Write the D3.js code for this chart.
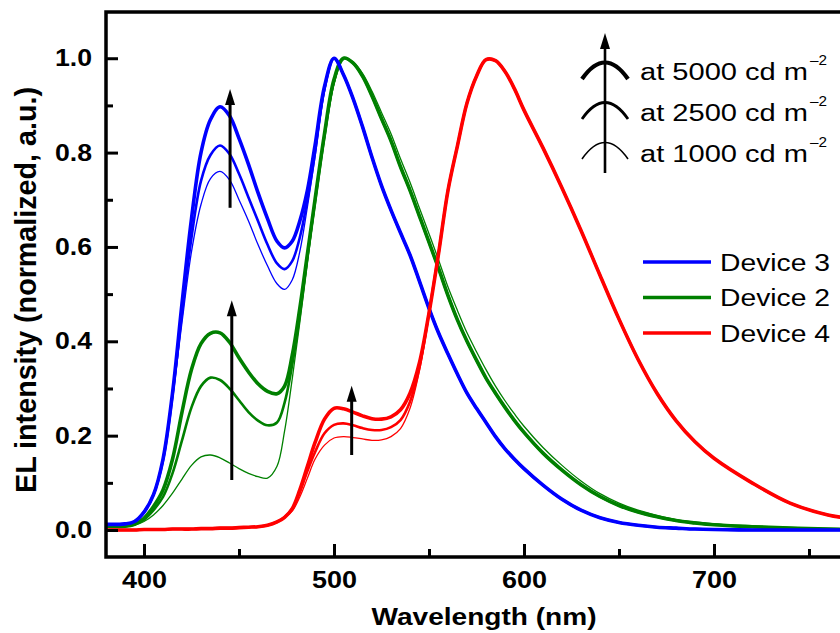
<!DOCTYPE html>
<html>
<head>
<meta charset="utf-8">
<script src="https://cdn.jsdelivr.net/npm/d3@7"></script>
<style>
  html, body { margin: 0; padding: 0; background: #fff; }
  svg { display: block; }
</style>
</head>
<body>
<svg id="chart" width="840" height="633"></svg>
<script>
// ---------------- DATA ----------------
const wavelength = [380,390,395,400,405,410,415,420,425,430,435,440,445,450,455,460,465,470,474,478,482,486,490,495,500,505,510,515,520,525,530,535,540,545,550,555,560,565,570,575,580,585,590,595,600,610,620,630,640,650,660,670,680,690,700,720,740,760,780];

// Device 3 (blue)
const dev3_5000 = [.012,.013,.018,.038,.075,.15,.29,.48,.66,.80, .87,.897,.878,.83,.775, .715,.66,.612,.598,.612, .655,.72,.815,.94,1.0, .965,.915,.855,.79,.73, .678,.63,.583,.527,.47, .418,.373,.33,.29,.258, .228,.198,.172,.15,.13, .095,.065,.042,.026,.016, .01,.006,.004,.002,.001, 0,0,0,0];
const dev3_2500 = [.012,.013,.018,.038,.075,.148,.285,.46,.62,.74, .795,.815,.797,.755,.705, .655,.605,.565,.553,.57, .62,.70,.80,.935,1.0, .965,.915,.855,.79,.73, .678,.63,.583,.527,.47, .418,.373,.33,.29,.258, .228,.198,.172,.15,.13, .095,.065,.042,.026,.016, .01,.006,.004,.002,.001, 0,0,0,0];
const dev3_1000 = [.012,.013,.018,.036,.072,.145,.28,.44,.59,.69, .745,.76,.742,.70,.655, .605,.56,.522,.51,.53, .59,.685,.79,.93,1.0, .965,.915,.855,.79,.73, .678,.63,.583,.527,.47, .418,.373,.33,.29,.258, .228,.198,.172,.15,.13, .095,.065,.042,.026,.016, .01,.006,.004,.002,.001, 0,0,0,0];

// Device 2 (green)
const dev2_5000 = [.008,.008,.012,.025,.05,.085,.15,.25,.34,.395, .417,.418,.398,.365,.335, .31,.294,.289,.305,.37, .47,.585,.70,.84,.955, 1.0,.99,.962,.92,.872, .825,.77,.72,.665,.61, .555,.497,.445,.40,.36, .322,.29,.26,.232,.207, .163,.127,.096,.071,.052, .038,.028,.02,.015,.011, .007,.004,.002,.001];
const dev2_2500 = [.008,.008,.012,.022,.042,.07,.12,.19,.26,.305, .323,.318,.30,.275,.25, .232,.222,.228,.27,.35, .455,.58,.695,.835,.95, 1.0,.99,.962,.92,.872, .825,.77,.72,.665,.61, .555,.497,.445,.40,.36, .322,.29,.26,.232,.207, .163,.127,.096,.071,.052, .038,.028,.02,.015,.011, .007,.004,.002,.001];
const dev2_1000 = [.008,.008,.01,.018,.032,.052,.078,.108,.137,.155, .159,.153,.142,.13,.12, .113,.11,.135,.21,.32, .44,.565,.69,.83,.945, 1.0,.992,.968,.93,.885, .84,.787,.737,.682,.628, .573,.515,.465,.418,.378, .34,.305,.274,.246,.22, .175,.137,.104,.077,.057, .042,.031,.022,.017,.013, .008,.004,.002,.001];

// Device 4 (red)
const dev4_5000 = [0,0,0,.001,.001,.001,.002,.002,.002,.003, .003,.004,.004,.005,.006, .007,.01,.017,.027,.045, .085,.135,.185,.235,.258, .257,.25,.242,.236,.235, .24,.255,.29,.355,.46, .585,.72,.815,.905,.962, .997,.995,.972,.935,.89, .81,.725,.635,.54,.447, .362,.29,.232,.187,.152, .10,.057,.032,.02];
const dev4_2500 = [0,0,0,.001,.001,.001,.002,.002,.002,.003, .003,.004,.004,.005,.006, .007,.01,.017,.027,.045, .08,.125,.165,.205,.223, .226,.222,.216,.212,.212, .218,.233,.272,.345,.46, .585,.72,.815,.905,.962, .997,.995,.972,.935,.89, .81,.725,.635,.54,.447, .362,.29,.232,.187,.152, .10,.057,.032,.02];
const dev4_1000 = [0,0,0,.001,.001,.001,.002,.002,.002,.003, .003,.004,.004,.005,.006, .007,.01,.017,.027,.04, .07,.11,.15,.18,.195, .198,.196,.193,.19,.191, .198,.215,.258,.338,.455, .585,.72,.815,.905,.962, .997,.995,.972,.935,.89, .81,.725,.635,.54,.447, .362,.29,.232,.187,.152, .10,.057,.032,.02];

const xTicks = [400, 500, 600, 700];
const xMinorTicks = [450, 550, 650, 750];
const yTicks = [0, 0.2, 0.4, 0.6, 0.8, 1.0];
const yMinorTicks = [0.1, 0.3, 0.5, 0.7, 0.9];

const legendDevices = ["Device 3", "Device 2", "Device 4"];
const legendLuminance = ["at 5000 cd m", "at 2500 cd m", "at 1000 cd m"];

// arrows inside the plot: [wavelength, yStart, yEnd]
const plotArrows = [[445.3, 0.683, 0.935], [446.2, 0.106, 0.487], [509.3, 0.159, 0.306]];

// ---------------- STYLE ----------------
const colors = { dev3: "#0000ff", dev2: "#008000", dev4: "#ff0000" };
const widths = [3.6, 2.6, 1.3]; // 5000, 2500, 1000

const series = [
  { key: "dev2", curves: [dev2_5000, dev2_2500, dev2_1000] },
  { key: "dev3", curves: [dev3_5000, dev3_2500, dev3_1000] },
  { key: "dev4", curves: [dev4_5000, dev4_2500, dev4_1000] }
];

const svg = d3.select("#chart");
svg.append("rect").attr("width", 840).attr("height", 633).attr("fill", "#fff");

const x = d3.scaleLinear().domain([380, 780]).range([106, 866]);
const y = d3.scaleLinear().domain([-0.0572, 1.098]).range([557, 12]);

svg.append("clipPath").attr("id", "clip")
  .append("rect").attr("x", 106).attr("y", 12).attr("width", 760).attr("height", 545);

const line = d3.line()
  .x((d, i) => x(wavelength[i]))
  .y(d => y(d))
  .curve(d3.curveCatmullRom.alpha(0.5));

const plot = svg.append("g").attr("clip-path", "url(#clip)");
series.forEach(s => {
  s.curves.forEach((c, k) => {
    plot.append("path")
      .datum(c)
      .attr("d", line)
      .attr("fill", "none")
      .attr("stroke", colors[s.key])
      .attr("stroke-width", widths[k])
      .attr("stroke-linejoin", "round");
  });
});

// arrows in plot
plotArrows.forEach(a => {
  const ax = x(a[0]), y0 = y(a[1]), y1 = y(a[2]);
  svg.append("line").attr("x1", ax).attr("x2", ax).attr("y1", y0).attr("y2", y1 + 12)
    .attr("stroke", "#000").attr("stroke-width", 3);
  svg.append("path")
    .attr("d", `M${ax},${y1} L${ax - 5},${y1 + 16} L${ax + 5},${y1 + 16} Z`)
    .attr("fill", "#000");
});

// ---------------- AXES ----------------
const fontBold = "'Liberation Sans', Arial, Helvetica, sans-serif";

const xAxis = svg.append("g").attr("transform", "translate(0,557)")
  .call(d3.axisBottom(x).tickValues(xTicks).tickSize(-13).tickSizeOuter(0).tickPadding(14).tickFormat(d3.format("d")));
xAxis.select(".domain").remove();
xAxis.selectAll(".tick line").attr("stroke", "#000").attr("stroke-width", 3);
xAxis.selectAll(".tick text")
  .attr("font-family", fontBold).attr("font-weight", "bold").attr("font-size", 24.5)
  .attr("fill", "#000").attr("textLength", 45).attr("lengthAdjust", "spacingAndGlyphs");

const xMinor = svg.append("g").attr("transform", "translate(0,557)")
  .call(d3.axisBottom(x).tickValues(xMinorTicks).tickSize(-8).tickSizeOuter(0).tickFormat(""));
xMinor.select(".domain").remove();
xMinor.selectAll(".tick line").attr("stroke", "#000").attr("stroke-width", 3);

const yAxis = svg.append("g").attr("transform", "translate(106,0)")
  .call(d3.axisLeft(y).tickValues(yTicks).tickSize(-12).tickSizeOuter(0).tickPadding(14).tickFormat(d3.format(".1f")));
yAxis.select(".domain").remove();
yAxis.selectAll(".tick line").attr("stroke", "#000").attr("stroke-width", 3);
yAxis.selectAll(".tick text")
  .attr("font-family", fontBold).attr("font-weight", "bold").attr("font-size", 23.5)
  .attr("fill", "#000").attr("textLength", 37).attr("lengthAdjust", "spacingAndGlyphs");

const yMinor = svg.append("g").attr("transform", "translate(106,0)")
  .call(d3.axisLeft(y).tickValues(yMinorTicks).tickSize(-7).tickSizeOuter(0).tickFormat(""));
yMinor.select(".domain").remove();
yMinor.selectAll(".tick line").attr("stroke", "#000").attr("stroke-width", 3);

// frame
svg.append("path")
  .attr("d", `M${x.range()[1]},${y.range()[1]} H${x.range()[0]} V${y.range()[0]} H${x.range()[1]}`)
  .attr("fill", "none").attr("stroke", "#000").attr("stroke-width", 3.5).attr("stroke-linejoin", "miter");

// axis titles
svg.append("text")
  .attr("x", 484).attr("y", 625).attr("text-anchor", "middle")
  .attr("font-family", fontBold).attr("font-weight", "bold").attr("font-size", 24)
  .attr("textLength", 225).attr("lengthAdjust", "spacingAndGlyphs")
  .text("Wavelength (nm)");

svg.append("text")
  .attr("transform", "translate(36,290) scale(1.2,1) rotate(-90)")
  .attr("text-anchor", "middle")
  .attr("font-family", fontBold).attr("font-weight", "bold").attr("font-size", 25)
  .attr("textLength", 406).attr("lengthAdjust", "spacingAndGlyphs")
  .text("EL intensity (normalized, a.u.)");

// ---------------- LUMINANCE KEY ----------------
const fontReg = "'Liberation Sans', Arial, Helvetica, sans-serif";
const keyX = 605;
svg.append("line").attr("x1", keyX).attr("x2", keyX).attr("y1", 173).attr("y2", 46)
  .attr("stroke", "#000").attr("stroke-width", 2.6);
svg.append("path").attr("d", `M${keyX},33 L${keyX - 5},49 L${keyX + 5},49 Z`).attr("fill", "#000");

const arcBase = [79, 119, 159];
const arcW = [4.2, 2.8, 1.6];
legendLuminance.forEach((t, i) => {
  const b = arcBase[i];
  svg.append("path")
    .attr("d", `M${keyX - 23},${b} Q${keyX},${b - 33} ${keyX + 23},${b}`)
    .attr("fill", "none").attr("stroke", "#000").attr("stroke-width", arcW[i]);
  svg.append("text").attr("x", 640).attr("y", 80 + i * 41)
    .attr("font-family", fontReg).attr("font-size", 23)
    .attr("textLength", 168).attr("lengthAdjust", "spacingAndGlyphs")
    .text(t);
  svg.append("text").attr("x", 810).attr("y", 65 + i * 41)
    .attr("font-family", fontReg).attr("font-size", 14)
    .attr("textLength", 17).attr("lengthAdjust", "spacingAndGlyphs")
    .text("\u20132");
});

// ---------------- DEVICE LEGEND ----------------
const legendColors = [colors.dev3, colors.dev2, colors.dev4];
legendDevices.forEach((t, i) => {
  const yy = 262 + i * 35.5;
  svg.append("line").attr("x1", 643).attr("x2", 711).attr("y1", yy).attr("y2", yy)
    .attr("stroke", legendColors[i]).attr("stroke-width", 3.6);
  svg.append("text").attr("x", 720).attr("y", yy + 8.5)
    .attr("font-family", fontReg).attr("font-size", 23)
    .attr("textLength", 110).attr("lengthAdjust", "spacingAndGlyphs")
    .text(t);
});
</script>
</body>
</html>
